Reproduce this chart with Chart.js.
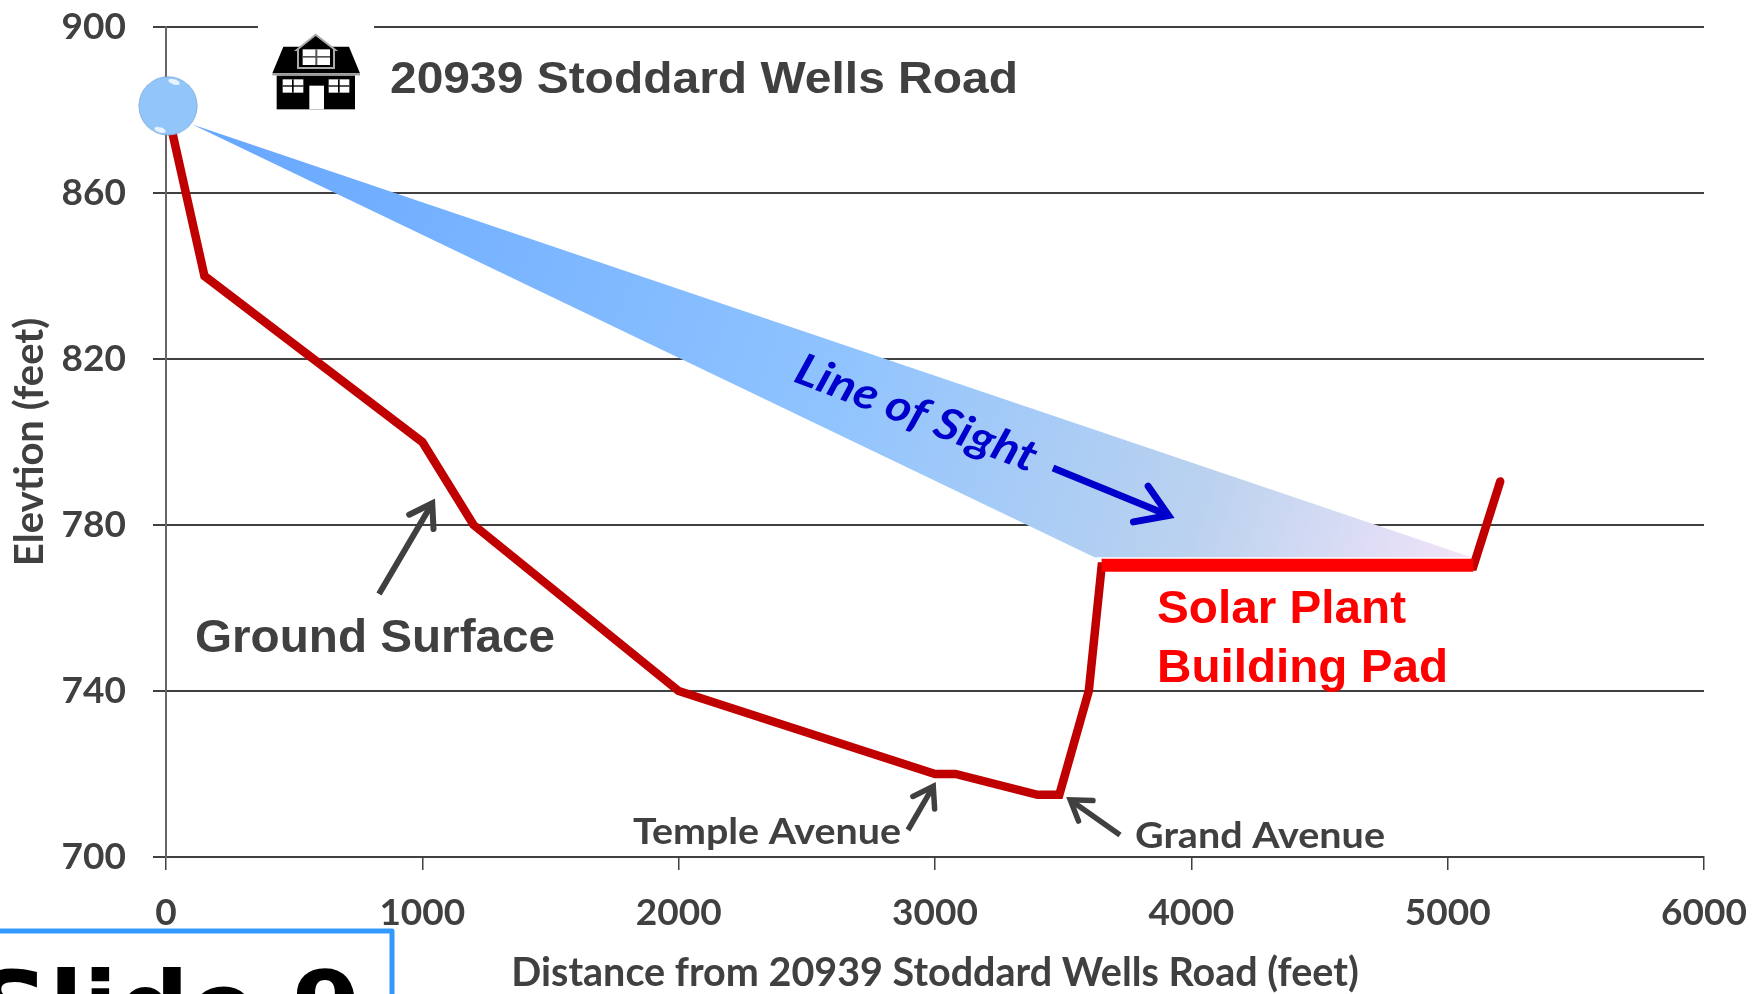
<!DOCTYPE html>
<html><head><meta charset="utf-8">
<script src="https://cdn.jsdelivr.net/npm/chart.js@4"></script>
<style>html,body{margin:0;padding:0;background:#fff}canvas{display:block}</style>
</head><body><canvas id="c" width="1764" height="994"></canvas>
<script>
const xTicks=[0,1000,2000,3000,4000,5000,6000];
const yTicks=[700,740,780,820,860,900];
const groundX=[5,150,1000,1200,2000,3000,3080,3400,3485,3600,3650,5100,5205];
const groundY=[880,840,800,780,740,720,720,715,715,740,770,770,790.5];
const padX=[3650,5100];
const padY=[770.3,770.3];
const beamTopX=[103,5093];
const beamTopY=[876.5,772.2];
const beamLowX=[103,3622,5093];
const beamLowY=[876.5,772.2,772.2];
const ballX=[8];
const ballY=[881];
const xTitle='Distance from 20939 Stoddard Wells Road (feet)';
const yTitle='Elevtion (feet)';
const pts=(a,b)=>a.map((v,i)=>({x:v,y:b[i]}));
const DK='#404040';

const ball=document.createElement('canvas');ball.width=62;ball.height=62;
(function(){const g=ball.getContext('2d');
 const r=g.createRadialGradient(31,31,18,31,31,30);
 r.addColorStop(0,'#92c6fb');r.addColorStop(.84,'#92c6fb');r.addColorStop(.95,'#7ea6d8');r.addColorStop(1,'#46587e');
 g.fillStyle=r;g.beginPath();g.arc(31,31,29.5,0,7);g.fill();
 g.fillStyle='rgba(255,255,255,.8)';
 g.beginPath();g.ellipse(37,7,6,2.5,.3,0,7);g.fill();
 g.beginPath();g.ellipse(23,55,6,2.5,.3,0,7);g.fill();
})();

function arrow(c,x0,y0,x1,y1,col,w,head){
 const a=Math.atan2(y1-y0,x1-x0);
 c.save();c.strokeStyle=col;c.fillStyle=col;c.lineWidth=w;c.lineCap='butt';
 c.beginPath();c.moveTo(x0,y0);c.lineTo(x1-Math.cos(a)*w,y1-Math.sin(a)*w);c.stroke();
 c.lineCap='round';c.lineJoin='miter';
 c.beginPath();
 c.moveTo(x1-head*Math.cos(a-.55),y1-head*Math.sin(a-.55));
 c.lineTo(x1-1.5*Math.cos(a),y1-1.5*Math.sin(a));
 c.lineTo(x1-head*Math.cos(a+.55),y1-head*Math.sin(a+.55));
 c.stroke();
 c.restore();
}
function label(c,t,x,y,font,col,w){
 c.save();c.font=font;c.fillStyle=col;c.textAlign='left';c.textBaseline='alphabetic';
 c.translate(x,y);
 if(w){c.scale(w/c.measureText(t).width,1);}
 c.fillText(t,0,0);c.restore();
}
function house(c){
 c.save();c.translate(250,20);c.scale(1/3,1/3);
 const R=(x,y,w,h,col)=>{c.fillStyle=col;c.fillRect(x,y,w,h)};
 c.fillStyle='#000';
 c.beginPath();c.moveTo(100,80);c.lineTo(297,80);c.lineTo(330,160);c.lineTo(67,160);c.closePath();c.fill();
 R(67,160,263,6,'#999');
 R(80,167,235,101,'#000');
 R(178,197,44,71,'#fff');
 for(const x of [98,236]){R(x,178,62,40,'#fff');R(x+28,178,5,40,'#000');R(x,196,62,4,'#000');}
 c.fillStyle='#000';c.strokeStyle='#aaa';c.lineWidth=6;
 c.beginPath();c.moveTo(140,90);c.lineTo(197,44);c.lineTo(256,90);c.lineTo(252,90);c.lineTo(252,144);c.lineTo(144,144);c.lineTo(144,90);c.closePath();c.fill();c.stroke();
 R(158,88,82,47,'#fff');R(196,88,6,47,'#555');R(158,108,82,5,'#555');
 c.restore();
}
const overlay={id:'overlay',afterDatasetsDraw(ch){
 const c=ch.ctx;
 c.fillStyle='#fff';c.fillRect(258,18,116,90);
 house(c);
 label(c,'20939 Stoddard Wells Road',390,93,'bold 45px "Liberation Sans"',DK,628);
 label(c,'Ground Surface',195,652,'bold 46px "Liberation Sans"',DK,360);
 label(c,'Solar Plant',1157,623,'bold 46px "Liberation Sans"','#ff0000',249);
 label(c,'Building Pad',1157,682,'bold 46px "Liberation Sans"','#ff0000',291);
 label(c,'Temple Avenue',633,844,'bold 37px Lato',DK,268);
 label(c,'Grand Avenue',1135,848,'bold 37px Lato',DK,250);
 arrow(c,379,594,433,502,DK,6,27);
 arrow(c,908,830,934,785,DK,5.5,24);
 arrow(c,1120,835,1069,799,DK,5.5,24);
 c.save();c.translate(792,381);c.rotate(21*Math.PI/180);
 c.font='italic bold 44px Lato';c.fillStyle='#0000cc';c.textBaseline='alphabetic';
 const m=c.measureText('Line of Sight').width;c.scale(255/m,1);c.fillText('Line of Sight',0,0);c.restore();
 arrow(c,1053,468,1170,516,'#0000cc',7,37);
 c.fillStyle='#fff';c.fillRect(0,931,392,63);
 c.strokeStyle='#3399ff';c.lineWidth=5;c.lineJoin='round';
 c.beginPath();c.moveTo(-5,931);c.lineTo(392,931);c.lineTo(392,1000);c.stroke();
 c.save();c.beginPath();c.rect(0,934,389,60);c.clip();
 label(c,'Slide 9',-23,1043,'bold 100px "DejaVu Sans"','#000');
 c.restore();
}};

new Chart(document.getElementById('c'),{
 type:'scatter',
 data:{datasets:[
  {label:'Marker',data:pts(ballX,ballY),pointStyle:ball,pointRadius:29,clip:false,showLine:false},
  {label:'Solar Plant Building Pad',data:pts(padX,padY),showLine:true,borderColor:'#ff0000',borderWidth:13,pointRadius:0,borderCapStyle:'butt',clip:false},
  {label:'Ground Surface',data:pts(groundX,groundY),showLine:true,borderColor:'#c00000',borderWidth:8.5,pointRadius:0,borderJoinStyle:'miter',borderCapStyle:'round',clip:false},
  {label:'Line of Sight',data:pts(beamTopX,beamTopY),showLine:true,borderWidth:0,borderColor:'rgba(0,0,0,0)',pointRadius:0,fill:'+1',clip:false,
   backgroundColor(ctx){const g=ctx.chart.ctx.createLinearGradient(193,125,1471,557);
    g.addColorStop(0,'#66a6ff');g.addColorStop(.5,'#8ec3ff');g.addColorStop(.8,'#bbd2ef');g.addColorStop(1,'#f2e4f9');return g;}},
  {label:'Line of Sight lower',data:pts(beamLowX,beamLowY),showLine:true,borderWidth:0,borderColor:'rgba(0,0,0,0)',pointRadius:0,fill:false,clip:false}
 ]},
 options:{responsive:false,animation:false,
  layout:{autoPadding:false,padding:{left:0,right:60,top:27,bottom:0}},
  plugins:{legend:{display:false},tooltip:{enabled:false}},
  scales:{
   x:{type:'linear',min:0,max:6000,afterBuildTicks:s=>{s.ticks=xTicks.map(v=>({value:v}))},
    afterFit:s=>{s.height=137;s.paddingLeft=0;s.paddingRight=0},
    grid:{drawOnChartArea:false,drawTicks:true,tickLength:13,color:DK,lineWidth:1.5},
    border:{display:true,color:DK,width:2},
    ticks:{color:DK,font:{family:'Lato',weight:'bold',size:37},padding:21,maxRotation:0,autoSkip:false,callback:v=>String(v)},
    title:{display:true,text:xTitle,color:DK,font:{family:'Lato',weight:'bold',size:39.5,lineHeight:1},padding:{top:0,bottom:1}}},
   y:{type:'linear',min:700,max:900,afterBuildTicks:s=>{s.ticks=yTicks.map(v=>({value:v}))},
    afterFit:s=>{s.width=166;s.paddingTop=0;s.paddingBottom=0},
    grid:{drawOnChartArea:true,drawTicks:true,tickLength:13,color:DK,lineWidth:2},
    border:{display:true,color:'#666',width:2},
    ticks:{color:DK,font:{family:'Lato',weight:'bold',size:37},padding:27,autoSkip:false,callback:v=>String(v)},
    title:{display:true,text:yTitle,color:DK,font:{family:'Lato',weight:'bold',size:40,lineHeight:1},padding:{top:10,bottom:0}}}
  }
 },
 plugins:[overlay]
});
</script></body></html>
